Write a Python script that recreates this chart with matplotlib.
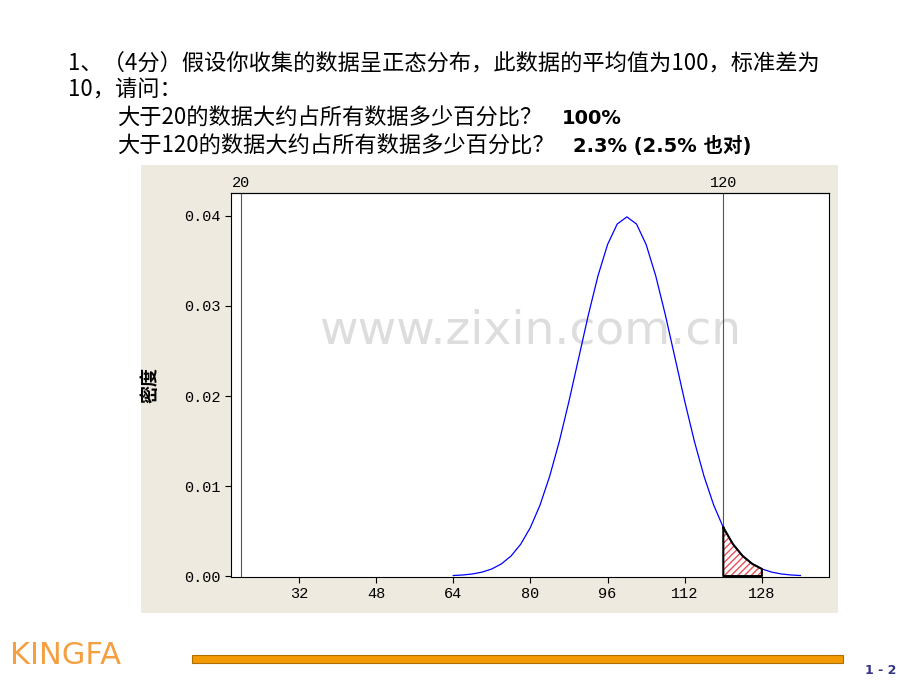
import matplotlib
matplotlib.use("Agg")
import matplotlib.pyplot as plt
from matplotlib.patches import Rectangle

plt.rcParams['font.family'] = ['Noto Sans CJK SC', 'DejaVu Sans']

x_vals = [64, 66, 68, 70, 72, 74, 76, 78, 80, 82, 84, 86, 88, 90, 92, 94, 96, 98, 100,
          102, 104, 106, 108, 110, 112, 114, 116, 118, 120, 122, 124, 126, 128, 130, 132, 134, 136]
density = [0.000061, 0.000123, 0.000238, 0.000443, 0.000792, 0.001358, 0.002239, 0.003547,
           0.005399, 0.007895, 0.011092, 0.014973, 0.019419, 0.024197, 0.028969, 0.033322,
           0.036827, 0.039104, 0.039894, 0.039104, 0.036827, 0.033322, 0.028969, 0.024197,
           0.019419, 0.014973, 0.011092, 0.007895, 0.005399, 0.003547, 0.002239, 0.001358,
           0.000792, 0.000443, 0.000238, 0.000123, 0.000061]
x_ticks = [32, 48, 64, 80, 96, 112, 128]
y_ticks = [0.00, 0.01, 0.02, 0.03, 0.04]
ref_lines = [20, 120]

fig = plt.figure(figsize=(9.2, 6.9), dpi=100)
fig.patches.append(Rectangle((0.1533, 0.1116), 0.7576, 0.6493, transform=fig.transFigure,
                             facecolor='#EEEAE0', edgecolor='none', zorder=-5))

ax = fig.add_axes([0.251, 0.1638, 0.65, 0.5565])
ax.plot(x_vals, density, color='#0000FF', lw=0.9, zorder=3)
sx = [x for x in x_vals if 120 <= x <= 128]
sy = [d for x, d in zip(x_vals, density) if 120 <= x <= 128]
ax.fill_between(sx, 0, sy, facecolor='white', edgecolor='#E8505A', hatch='/////', lw=0, zorder=2)
ax.plot(sx + [sx[-1], sx[0], sx[0]], sy + [0, 0, sy[0]], color='black', lw=1.5, zorder=4)
for r in ref_lines:
    ax.axvline(r, color='#555555', lw=0.8, zorder=1)
ax.set_xlim(17.9, 141.9)
ax.set_ylim(-0.0001, 0.04255)
mono = 'Liberation Mono'
ax.set_xticks(x_ticks)
ax.set_xticklabels([str(t) for t in x_ticks], family=mono, fontsize=11)
ax.set_yticks(y_ticks)
ax.set_yticklabels([f"{t:.2f}" for t in y_ticks], family=mono, fontsize=11)
ax.tick_params(length=4, width=0.8, color='black')
ax2 = ax.secondary_xaxis('top')
ax2.set_xticks(ref_lines)
ax2.set_xticklabels([str(r) for r in ref_lines], family=mono, fontsize=11)
ax2.tick_params(length=0, pad=2)
ax.set_ylabel('密度', fontsize=13, fontweight='bold', labelpad=18)
for s in ax.spines.values():
    s.set_linewidth(0.8)

ax.text(0.5, 0.64, 'www.zixin.com.cn', transform=ax.transAxes, ha='center', va='center',
        fontsize=34, color='#DDDDDD', family='DejaVu Sans', zorder=0)

fs = 16
fig.text(68/920, 1-63/690, '1、（4分）假设你收集的数据呈正态分布，此数据的平均值为100，标准差为', fontsize=fs, va='center')
fig.text(68/920, 1-90/690, '10，请问：', fontsize=fs, va='center')
fig.text(117/920, 1-118/690, '大于20的数据大约占所有数据多少百分比？', fontsize=fs, va='center')
fig.text(562/920, 1-118/690, '100%', fontsize=14, va='center', fontweight='bold', family='DejaVu Sans')
fig.text(117/920, 1-146/690, '大于120的数据大约占所有数据多少百分比？', fontsize=fs, va='center')
fig.text(573/920, 1-146/690, '2.3% (2.5% 也对)', fontsize=14, va='center', fontweight='bold',
         family=['DejaVu Sans', 'Noto Sans CJK SC'])

fig.text(10/920, 1-656/690, 'KINGFA', fontsize=22, color='#F5A040', va='center', family='DejaVu Sans')
fig.patches.append(Rectangle((192/920, 1-663/690), 651/920, 8/690, transform=fig.transFigure,
                             facecolor='#F39A00', edgecolor='#B07000', lw=0.8))
fig.text(865/920, 1-670/690, '1 - 2', fontsize=9, color='#333388', fontweight='bold', va='center',
         family='DejaVu Sans')

fig.savefig('out.png', dpi=100)
